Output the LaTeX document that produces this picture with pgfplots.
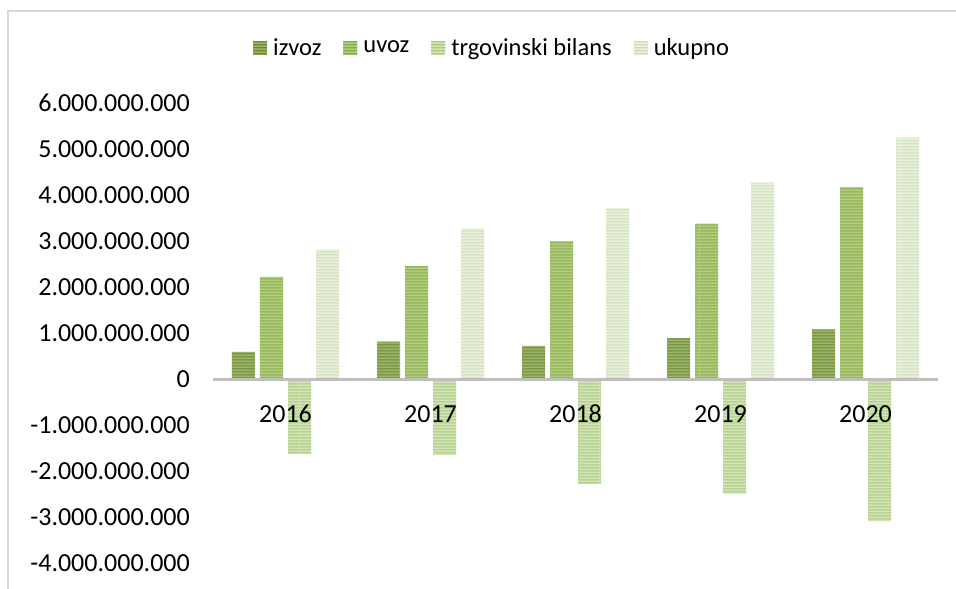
\documentclass[border=0pt]{standalone}
\usepackage{pgfplots}
\pgfplotsset{compat=1.18}
\usepackage{fontspec}
\setmainfont{Carlito}
\usetikzlibrary{patterns}
\pgfdeclarepatternformonly{hstripes}{\pgfpoint{0pt}{0pt}}{\pgfpoint{100pt}{3pt}}{\pgfpoint{100pt}{3pt}}{%
  \pgfpathrectangle{\pgfpoint{0pt}{0.75pt}}{\pgfpoint{100pt}{1.5pt}}\pgfusepath{fill}}
\definecolor{izF}{HTML}{9DB56A}
\definecolor{izS}{HTML}{6A8835}
\definecolor{uvF}{HTML}{B2CD82}
\definecolor{uvS}{HTML}{89AC46}
\definecolor{tbF}{HTML}{D2E4B8}
\definecolor{tbS}{HTML}{AAC97C}
\definecolor{ukF}{HTML}{EAF1DE}
\definecolor{ukS}{HTML}{CCDDB3}
\pgfplotstableread{
x izvoz uvoz bilans ukupno
0 0.59e9 2.22e9 -1.63e9 2.81e9
1 0.81e9 2.46e9 -1.65e9 3.27e9
2 0.72e9 3.00e9 -2.28e9 3.72e9
3 0.89e9 3.38e9 -2.49e9 4.27e9
4 1.08e9 4.17e9 -3.09e9 5.25e9
}\data
\begin{document}
\begin{tikzpicture}[font=\fontsize{26}{31}\selectfont]
\useasboundingbox (0,0) rectangle (956pt,589pt);
\draw[color=black!15, line width=2pt] (8pt,0) -- (8pt,577.5pt) -- (956pt,577.5pt);
\begin{axis}[
  at={(213pt,26pt)}, anchor=south west,
  scale only axis, width=725pt, height=460pt,
  axis on top,
  ybar=5pt, bar width=23pt,
  xmin=-0.5, xmax=4.5, ymin=-4e9, ymax=6e9,
  axis x line=middle, axis y line=left,
  x axis line style={-, draw=black!25, line width=3pt},
  y axis line style={draw=none},
  major tick length=0pt,
  xtick={0,1,2,3,4}, xticklabels={2016,2017,2018,2019,2020},
  xticklabel style={anchor=north, inner sep=0pt, yshift=-26pt, font=\fontsize{26}{31}\selectfont},
  ytick={-4e9,-3e9,-2e9,-1e9,0,1e9,2e9,3e9,4e9,5e9,6e9},
  yticklabels={-4.000.000.000,-3.000.000.000,-2.000.000.000,-1.000.000.000,0,1.000.000.000,2.000.000.000,3.000.000.000,4.000.000.000,5.000.000.000,6.000.000.000},
  yticklabel style={anchor=east, inner sep=0pt, xshift=-23pt, font=\fontsize{26}{31}\selectfont},
  scaled y ticks=false,
  clip=false,
  legend columns=4,
  legend style={at={(0.385,1.12)}, anchor=center, draw=none, fill=none,
    font=\fontsize{24.5}{29}\selectfont, inner sep=0pt,
    nodes={inner sep=2pt},
    /tikz/every odd column/.append style={column sep=4pt},
    /tikz/every even column/.append style={column sep=20pt}},
  legend image code/.code={\path[#1,draw=none] (0pt,-7pt) rectangle (14pt,7pt);},
]
\addplot[draw=none, fill=izF, postaction={pattern=hstripes, pattern color=izS}] table[x=x,y=izvoz]{\data};
\addplot[draw=none, fill=uvF, postaction={pattern=hstripes, pattern color=uvS}] table[x=x,y=uvoz]{\data};
\addplot[draw=none, fill=tbF, postaction={pattern=hstripes, pattern color=tbS}] table[x=x,y=bilans]{\data};
\addplot[draw=none, fill=ukF, postaction={pattern=hstripes, pattern color=ukS}] table[x=x,y=ukupno]{\data};
\legend{izvoz,uvoz,trgovinski bilans,ukupno}
\end{axis}
\end{tikzpicture}
\end{document}
